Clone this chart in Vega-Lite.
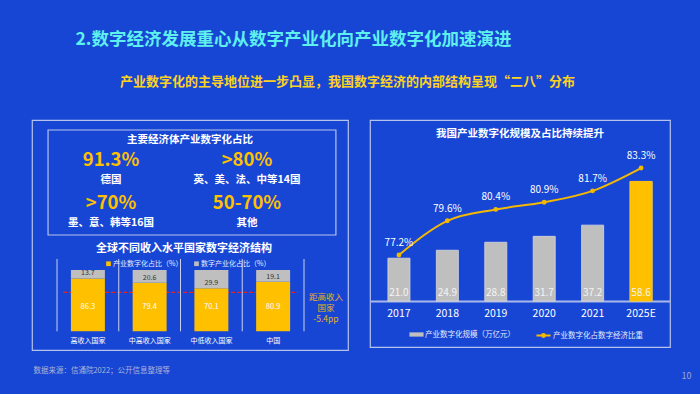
{
  "$schema": "https://vega.github.io/schema/vega-lite/v6.json",
  "background": "#1846d4",
  "padding": {"left": 31, "right": 11, "top": 30, "bottom": 19},
  "title": {"text": "2.数字经济发展重心从数字产业化向产业数字化加速演进", "anchor": "start", "dx": 44, "fontSize": 17.5, "fontWeight": "bold", "color": "#5ef0ee", "offset": 28},
  "vconcat": [
    {
      "title": {"text": "产业数字化的主导地位进一步凸显，我国数字经济的内部结构呈现“二八”分布", "anchor": "middle", "dx": -14, "fontSize": 13, "fontWeight": "bold", "color": "#ffd21f", "offset": 30},
      "spacing": 20,
      "resolve": {"scale": {"fill": "independent", "stroke": "independent"}},
      "hconcat": [
        {
          "title": {"text": "数据来源：信通院2022；公开信息整理等", "orient": "bottom", "anchor": "start", "fontSize": 7.5, "fontWeight": "normal", "color": "#a8b4d8", "offset": 16, "dx": 2},
          "vconcat": [
            {
              "width": 316,
              "height": 230,
              "view": {"stroke": "#b4c2ec", "strokeWidth": 1.2},
              "title": {"text": "主要经济体产业数字化占比", "offset": -25, "fontSize": 10.5, "fontWeight": "bold", "color": "#ffffff"},
              "resolve": {"scale": {"x": "independent", "y": "independent"}},
              "layer": [
                {
                  "data": {"values": [
                    {"share": "91.3%", "economies": "德国", "col": 0, "row": 0},
                    {"share": ">80%", "economies": "英、美、法、中等14国", "col": 1, "row": 0},
                    {"share": ">70%", "economies": "墨、意、韩等16国", "col": 0, "row": 1},
                    {"share": "50-70%", "economies": "其他", "col": 1, "row": 1}
                  ]},
                  "mark": {"type": "text", "fontSize": 18.5, "fontWeight": "bold", "color": "#FFC000", "dy": -2},
                  "encoding": {
                    "x": {"field": "col", "type": "quantitative", "scale": {"domain": [-0.581, 1.743], "nice": false, "zero": false}, "axis": null},
                    "y": {"field": "row", "type": "quantitative", "scale": {"domain": [-0.977, 4.372], "nice": false, "zero": false, "reverse": true}, "axis": null},
                    "text": {"field": "share"}
                  }
                },
                {
                  "data": {"values": [
                    {"share": "91.3%", "economies": "德国", "col": 0, "row": 0},
                    {"share": ">80%", "economies": "英、美、法、中等14国", "col": 1, "row": 0},
                    {"share": ">70%", "economies": "墨、意、韩等16国", "col": 0, "row": 1},
                    {"share": "50-70%", "economies": "其他", "col": 1, "row": 1}
                  ]},
                  "mark": {"type": "text", "fontSize": 10.5, "fontWeight": "bold", "color": "#ffffff", "dy": 17.5},
                  "encoding": {
                    "x": {"field": "col", "type": "quantitative", "scale": {"domain": [-0.581, 1.743], "nice": false, "zero": false}, "axis": null},
                    "y": {"field": "row", "type": "quantitative", "scale": {"domain": [-0.977, 4.372], "nice": false, "zero": false, "reverse": true}, "axis": null},
                    "text": {"field": "economies"}
                  }
                },
                {
                  "data": {"values": [{"box": "主要经济体"}]},
                  "mark": {"type": "rect", "fill": null, "stroke": "#b4c2ec", "strokeWidth": 1.2},
                  "encoding": {
                    "x": {"datum": -0.463, "type": "quantitative", "scale": {"domain": [-0.581, 1.743], "nice": false, "zero": false}, "axis": null},
                    "x2": {"datum": 1.654},
                    "y": {"datum": -0.744, "type": "quantitative", "scale": {"domain": [-0.977, 4.372], "nice": false, "zero": false, "reverse": true}, "axis": null},
                    "y2": {"datum": 1.698}
                  }
                },
                {
                  "data": {"values": [{"title": "全球不同收入水平国家数字经济结构"}]},
                  "mark": {"type": "text", "fontSize": 11, "fontWeight": "bold", "color": "#ffffff"},
                  "encoding": {
                    "x": {"datum": 0.537, "type": "quantitative", "scale": {"domain": [-0.581, 1.743], "nice": false, "zero": false}, "axis": null},
                    "y": {"datum": 2.023, "type": "quantitative", "scale": {"domain": [-0.977, 4.372], "nice": false, "zero": false, "reverse": true}, "axis": null},
                    "text": {"field": "title"}
                  }
                },
                {
                  "data": {"values": [{"ref": "高收入国家参考线"}]},
                  "mark": {"type": "rule", "stroke": "#e8231f", "strokeWidth": 1.3, "strokeDash": [4, 2]},
                  "encoding": {
                    "x": {"datum": -0.353, "type": "quantitative", "scale": {"domain": [-0.581, 1.743], "nice": false, "zero": false}, "axis": null},
                    "x2": {"datum": 1.375},
                    "y": {"datum": 3.03, "type": "quantitative", "scale": {"domain": [-0.977, 4.372], "nice": false, "zero": false, "reverse": true}, "axis": null}
                  }
                },
                {
                  "data": {"values": [{"note": "距高收入|国家|-5.4pp"}]},
                  "mark": {"type": "text", "fontSize": 8.5, "color": "#e8b020", "lineHeight": 11, "lineBreak": "|"},
                  "encoding": {
                    "x": {"datum": 1.581, "type": "quantitative", "scale": {"domain": [-0.581, 1.743], "nice": false, "zero": false}, "axis": null},
                    "y": {"datum": 3.15, "type": "quantitative", "scale": {"domain": [-0.977, 4.372], "nice": false, "zero": false, "reverse": true}, "axis": null},
                    "text": {"field": "note"}
                  }
                },
                {
                  "data": {"values": [
                    {"country": "高收入国家", "产业数字化占比（%）": 86.3, "数字产业化占比（%）": 13.7},
                    {"country": "中高收入国家", "产业数字化占比（%）": 79.4, "数字产业化占比（%）": 20.6},
                    {"country": "中低收入国家", "产业数字化占比（%）": 70.1, "数字产业化占比（%）": 29.9},
                    {"country": "中国", "产业数字化占比（%）": 80.9, "数字产业化占比（%）": 19.1}
                  ]},
                  "mark": {"type": "rule", "stroke": "#c8d2f0", "strokeWidth": 1, "xOffset": -13.9},
                  "encoding": {
                    "x": {"field": "country", "type": "nominal", "bandPosition": 0, "scale": {"type": "band", "domain": ["高收入国家", "中高收入国家", "中低收入国家", "中国"], "paddingInner": 0.45, "paddingOuter": 0.784, "align": 0.402}, "axis": null},
                    "y": {"datum": 118, "type": "quantitative", "scale": {"domain": [-30.5, 344.7], "nice": false, "zero": false}, "axis": null},
                    "y2": {"datum": 0}
                  }
                },
                {
                  "data": {"values": [{"country": "中国"}]},
                  "mark": {"type": "rule", "stroke": "#c8d2f0", "strokeWidth": 1, "xOffset": 13.9},
                  "encoding": {
                    "x": {"field": "country", "type": "nominal", "bandPosition": 1, "scale": {"type": "band", "domain": ["高收入国家", "中高收入国家", "中低收入国家", "中国"], "paddingInner": 0.45, "paddingOuter": 0.784, "align": 0.402}, "axis": null},
                    "y": {"datum": 118, "type": "quantitative", "scale": {"domain": [-30.5, 344.7], "nice": false, "zero": false}, "axis": null},
                    "y2": {"datum": 0}
                  }
                },
                {
                  "data": {"values": [
                    {"country": "高收入国家", "产业数字化占比（%）": 86.3, "数字产业化占比（%）": 13.7},
                    {"country": "中高收入国家", "产业数字化占比（%）": 79.4, "数字产业化占比（%）": 20.6},
                    {"country": "中低收入国家", "产业数字化占比（%）": 70.1, "数字产业化占比（%）": 29.9},
                    {"country": "中国", "产业数字化占比（%）": 80.9, "数字产业化占比（%）": 19.1}
                  ]},
                  "transform": [{"fold": ["产业数字化占比（%）", "数字产业化占比（%）"], "as": ["part", "value"]}],
                  "mark": {"type": "bar"},
                  "encoding": {
                    "x": {"field": "country", "type": "nominal", "scale": {"type": "band", "domain": ["高收入国家", "中高收入国家", "中低收入国家", "中国"], "paddingInner": 0.45, "paddingOuter": 0.784, "align": 0.402}, "axis": {"orient": "bottom", "offset": -18.7, "title": null, "labelAngle": 0, "labelFontSize": 7, "labelColor": "#ffffff", "labelPadding": 5, "ticks": false, "domain": false, "grid": false}},
                    "y": {"field": "value", "type": "quantitative", "stack": "zero", "scale": {"domain": [-30.5, 344.7], "nice": false, "zero": false}, "axis": null},
                    "order": {"field": "part", "sort": "ascending"},
                    "fill": {"field": "part", "type": "nominal", "scale": {"domain": ["产业数字化占比（%）", "数字产业化占比（%）"], "range": ["#FFC000", "#BFBFBF"]}, "legend": {"orient": "none", "legendX": 73, "legendY": 140, "direction": "horizontal", "title": null, "symbolType": "square", "symbolSize": 22, "symbolStrokeWidth": 0, "labelFontSize": 7, "labelColor": "#e6ecff", "labelOffset": 1, "columnPadding": 10}}
                  }
                },
                {
                  "data": {"values": [
                    {"country": "高收入国家", "产业数字化占比（%）": 86.3, "数字产业化占比（%）": 13.7},
                    {"country": "中高收入国家", "产业数字化占比（%）": 79.4, "数字产业化占比（%）": 20.6},
                    {"country": "中低收入国家", "产业数字化占比（%）": 70.1, "数字产业化占比（%）": 29.9},
                    {"country": "中国", "产业数字化占比（%）": 80.9, "数字产业化占比（%）": 19.1}
                  ]},
                  "mark": {"type": "text", "fontSize": 7.5, "color": "#ffffff"},
                  "encoding": {
                    "x": {"field": "country", "type": "nominal", "scale": {"type": "band", "domain": ["高收入国家", "中高收入国家", "中低收入国家", "中国"], "paddingInner": 0.45, "paddingOuter": 0.784, "align": 0.402}, "axis": null},
                    "y": {"datum": 40, "type": "quantitative", "scale": {"domain": [-30.5, 344.7], "nice": false, "zero": false}, "axis": null},
                    "text": {"field": "产业数字化占比（%）", "type": "quantitative", "format": ".1f"}
                  }
                },
                {
                  "data": {"values": [
                    {"country": "高收入国家", "产业数字化占比（%）": 86.3, "数字产业化占比（%）": 13.7},
                    {"country": "中高收入国家", "产业数字化占比（%）": 79.4, "数字产业化占比（%）": 20.6},
                    {"country": "中低收入国家", "产业数字化占比（%）": 70.1, "数字产业化占比（%）": 29.9},
                    {"country": "中国", "产业数字化占比（%）": 80.9, "数字产业化占比（%）": 19.1}
                  ]},
                  "mark": {"type": "text", "fontSize": 7, "color": "#333333", "dy": -5},
                  "encoding": {
                    "x": {"field": "country", "type": "nominal", "scale": {"type": "band", "domain": ["高收入国家", "中高收入国家", "中低收入国家", "中国"], "paddingInner": 0.45, "paddingOuter": 0.784, "align": 0.402}, "axis": null},
                    "y": {"field": "产业数字化占比（%）", "type": "quantitative", "scale": {"domain": [-30.5, 344.7], "nice": false, "zero": false}, "axis": null},
                    "text": {"field": "数字产业化占比（%）", "type": "quantitative", "format": ".1f"}
                  }
                }
              ]
            }
          ]
        },
        {
          "title": {"text": "10", "orient": "bottom", "anchor": "end", "fontSize": 9, "fontWeight": "normal", "color": "#9aa8d0", "offset": 24, "dx": 21},
          "vconcat": [
            {
              "width": 300,
              "height": 227,
              "view": {"stroke": "#b4c2ec", "strokeWidth": 1.2},
              "title": {"text": "我国产业数字化规模及占比持续提升", "offset": -19, "fontSize": 10.5, "fontWeight": "bold", "color": "#ffffff"},
              "data": {"values": [
                {"year": "2017", "scale": 21.0, "share": 0.772},
                {"year": "2018", "scale": 24.9, "share": 0.796},
                {"year": "2019", "scale": 28.8, "share": 0.804},
                {"year": "2020", "scale": 31.7, "share": 0.809},
                {"year": "2021", "scale": 37.2, "share": 0.817},
                {"year": "2025E", "scale": 58.6, "share": 0.833}
              ]},
              "encoding": {
                "x": {"field": "year", "type": "ordinal", "sort": null, "scale": {"type": "band", "paddingInner": 0.545, "paddingOuter": 0.37}, "axis": {"orient": "bottom", "offset": -46, "title": null, "labelAngle": 0, "labelFontSize": 10.5, "labelColor": "#ffffff", "labelPadding": 7, "ticks": false, "domainColor": "#a9b8e6", "domainWidth": 2, "grid": false}}
              },
              "resolve": {"scale": {"y": "independent"}},
              "layer": [
                {"mark": {"type": "bar", "stroke": "#d9d9d9", "strokeWidth": 0.8}, "encoding": {
                  "y": {"field": "scale", "type": "quantitative", "scale": {"domain": [-22.5, 88.7], "nice": false, "zero": false}, "axis": null},
                  "fill": {"datum": "产业数字化规模（万亿元）", "type": "nominal", "scale": {"range": ["#BFBFBF"]}, "legend": {"orient": "none", "legendX": 39, "legendY": 207, "title": null, "symbolType": "M-1,-0.3H1V0.3H-1Z", "symbolSize": 200, "symbolStrokeWidth": 0, "labelFontSize": 7.5, "labelColor": "#e6ecff", "labelOffset": 1}}
                }},
                {"transform": [{"filter": "datum.year === '2025E'"}], "mark": {"type": "bar", "fill": "#FFC000", "stroke": "#FFC000", "strokeWidth": 0.8}, "encoding": {
                  "y": {"field": "scale", "type": "quantitative", "scale": {"domain": [-22.5, 88.7], "nice": false, "zero": false}, "axis": null}
                }},
                {"mark": {"type": "text", "baseline": "bottom", "dy": -3, "fontSize": 10, "color": "#f4f4f4"}, "encoding": {
                  "y": {"datum": 0, "type": "quantitative", "scale": {"domain": [-22.5, 88.7], "nice": false, "zero": false}, "axis": null},
                  "text": {"field": "scale", "type": "quantitative", "format": ".1f"}
                }},
                {"mark": {"type": "line", "interpolate": "monotone", "strokeWidth": 2}, "encoding": {
                  "y": {"field": "share", "type": "quantitative", "scale": {"domain": [0.7075, 0.8667], "nice": false, "zero": false}, "axis": null},
                  "stroke": {"datum": "产业数字化占数字经济比重", "type": "nominal", "scale": {"range": ["#F5B800"]}, "legend": {"orient": "none", "legendX": 165, "legendY": 207, "title": null, "symbolType": "M-1,0H1M-0.2,0A0.2,0.2,0,1,1,0.2,0A0.2,0.2,0,1,1,-0.2,0", "symbolSize": 200, "symbolStrokeWidth": 2, "labelFontSize": 7.5, "labelColor": "#e6ecff", "labelOffset": 1}}
                }},
                {"mark": {"type": "point", "filled": true, "size": 24, "color": "#F5B800", "opacity": 1}, "encoding": {
                  "y": {"field": "share", "type": "quantitative", "scale": {"domain": [0.7075, 0.8667], "nice": false, "zero": false}, "axis": null}
                }},
                {"mark": {"type": "text", "dy": -12, "fontSize": 10, "color": "#ffffff"}, "encoding": {
                  "y": {"field": "share", "type": "quantitative", "scale": {"domain": [0.7075, 0.8667], "nice": false, "zero": false}, "axis": null},
                  "text": {"field": "share", "type": "quantitative", "format": ".1%"}
                }}
              ]
            }
          ]
        }
      ]
    }
  ],
  "config": {
    "font": "Noto Sans CJK SC",
    "view": {"stroke": null}
  }
}
